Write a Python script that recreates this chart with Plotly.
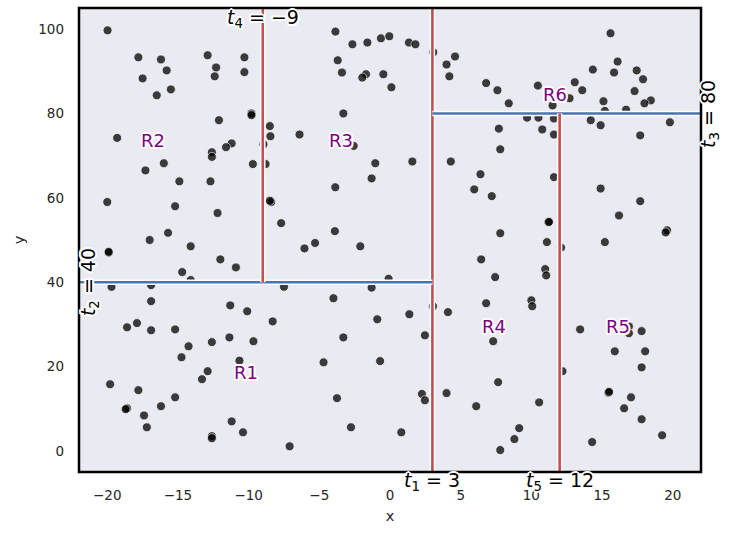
import plotly.graph_objects as go

# ---- data: sample points ----
x_vals = [
    -19.98, -17.8, -16.2, -15.8, -17.5, -15.5, -16.5, -12.9, -12.3, -12.4, -10.3, -10.3, -9.8, -9.8,
    -12.1, -19.3, -11.2, -11.6, -12.6, -12.6, -16.0, -17.3, -14.9, -12.7, -20.0, -15.2, -12.2, -15.7,
    -17.0, -14.1, -19.9, -19.9, -12.0, -10.9, -14.7, -14.1, -9.7,
    -8.5, -8.46, -8.95, -8.8, -8.4, -8.5, -7.7, -3.86, -2.66, -1.6, -0.64, -0.05, 1.34, 1.8, -3.7, -3.4,
    -1.7, -1.96, -0.47, 0.1, -3.3, -6.4, -2.57, -1.04, 1.58, -1.3, -3.87, -3.9, -5.3, -6.05, -2.1, -0.1,
    -19.7, -16.9, -16.9, -11.3, -10.1, -8.3, -18.6, -17.9, -16.9, -15.2, -14.25, -14.75, -12.6, -11.36,
    -9.66, -10.65, -12.9, -13.3, -19.8, -17.8, -15.2, -16.2, -18.6, -18.7, -17.4, -17.2, -11.2, -10.4,
    -12.6, -12.6, -7.5, -1.3, -4.0, -0.9, 1.37, 2.47, -3.3, -4.7, -0.7, -3.75, 2.26, 2.47, -2.76, 0.8, -7.1,
    3.06, 4.6, 4.0, 4.2, 4.3, 15.6, 16.1, 14.35, 15.85, 17.45, 17.9, 17.3, 18.45, 18.0, 13.07, 13.6, 6.8,
    7.6, 8.4, 10.46, 12.7, 11.5, 15.1, 15.2, 16.7, 9.7, 10.5, 11.6, 10.77, 11.6, 14.2, 14.9, 19.8, 17.7,
    7.7, 7.8, 6.4, 5.96, 7.2, 11.6, 14.9, 17.7, 16.2, 11.2, 11.25, 7.8, 11.1, 15.2, 19.6, 19.5, 12.1,
    6.45, 7.44, 10.98, 11.05, 3.04, 4.1, 6.8, 10.0, 10.06, 7.3, 13.45, 16.9, 16.9, 17.8, 15.9, 18.05,
    17.8, 12.2, 7.65, 4.0, 6.1, 10.55, 15.45, 15.5, 17.05, 16.56, 17.8, 9.14, 8.8, 7.8, 14.3, 19.25,
]
y_vals = [
    99.7, 93.3, 92.8, 90.2, 88.3, 85.7, 84.3, 93.8, 90.9, 88.8, 93.3, 89.8, 80.0, 79.6,
    78.4, 74.2, 72.9, 72.0, 70.8, 69.7, 68.2, 66.5, 63.9, 63.9, 59.0, 58.0, 56.4, 51.7,
    50.0, 48.5, 47.0, 47.2, 45.4, 43.5, 42.4, 40.5, 68.0,
    77.0, 74.6, 72.7, 68.0, 59.0, 59.3, 54.0, 99.4, 96.4, 96.8, 97.8, 98.3, 96.8, 96.4, 92.6, 89.7,
    89.3, 88.5, 89.3, 86.2, 80.0, 75.0, 72.3, 68.2, 68.6, 64.6, 62.5, 52.1, 49.3, 48.0, 48.5, 40.8,
    38.9, 39.3, 35.5, 34.5, 33.1, 30.7, 29.3, 30.3, 28.6, 28.8, 24.8, 22.2, 25.8, 26.9,
    26.0, 21.4, 18.9, 17.0, 15.8, 14.4, 12.7, 10.6, 10.1, 9.9, 8.4, 5.6, 7.0, 4.4,
    3.5, 3.0, 38.9, 38.7, 36.2, 31.2, 32.4, 27.4, 26.9, 21.0, 21.3, 12.5, 13.5, 12.0, 5.6, 4.4, 1.1,
    94.5, 93.5, 91.6, 88.8, 68.6, 99.0, 92.3, 90.4, 89.7, 90.2, 88.1, 85.3, 83.1, 82.4, 87.4, 85.5, 87.2,
    85.5, 82.4, 86.6, 83.6, 81.9, 82.9, 80.6, 80.9, 79.0, 79.0, 78.8, 76.2, 75.0, 78.4, 77.2, 77.9, 74.8,
    76.4, 71.5, 65.6, 62.0, 60.4, 64.9, 62.2, 59.2, 55.8, 54.2, 54.3, 51.6, 49.5, 49.5, 52.3, 51.8, 48.2,
    45.4, 41.2, 43.1, 41.6, 34.3, 32.9, 35.0, 35.7, 34.3, 26.0, 28.8, 29.5, 27.9, 28.4, 23.6, 23.6,
    19.8, 18.9, 16.3, 13.7, 10.6, 11.5, 13.8, 14.0, 12.7, 10.1, 7.5, 5.4, 2.8, 0.2, 2.1, 3.7,
]

# ---- data: splits of the tree ----
split_names = ["t_1", "t_2", "t_3", "t_4", "t_5"]
split_orient = ["v", "h", "h", "v", "v"]
split_value = [3, 40, 80, -9, 12]
split_lo = [-5, -22, 3, 40, -5]
split_hi = [105, 3, 22, 105, 80]

# ---- data: region labels ----
region_names = ["R1", "R2", "R3", "R4", "R5", "R6"]
region_x = [-10.2, -16.75, -3.5, 7.35, 16.1, 11.7]
region_y = [18.7, 73.5, 73.5, 29.6, 29.6, 84.4]

x_ticks = [-20, -15, -10, -5, 0, 5, 10, 15, 20]
y_ticks = [0, 20, 40, 60, 80, 100]
X_RANGE = [-22, 22]
Y_RANGE = [-5, 105]

RED = "#C44E52"
BLUE = "#4C72B0"
FONT = "DejaVu Sans"
HALO = ("2px 0px 0px white, -2px 0px 0px white, 0px 2px 0px white, 0px -2px 0px white, "
        "1.5px 1.5px 0px white, -1.5px -1.5px 0px white, 1.5px -1.5px 0px white, -1.5px 1.5px 0px white")

fig = go.Figure()

fig.add_trace(go.Scatter(
    x=x_vals, y=y_vals, mode="markers",
    marker=dict(color="black", opacity=0.75, size=9, line=dict(color="white", width=0.8)),
    hoverinfo="skip", showlegend=False,
))

for o, v, lo, hi in zip(split_orient, split_value, split_lo, split_hi):
    if o == "v":
        xs, ys, col = [v, v], [lo, hi], RED
    else:
        xs, ys, col = [lo, hi], [v, v], BLUE
    fig.add_trace(go.Scatter(x=xs, y=ys, mode="lines", line=dict(color="white", width=5.5),
                             hoverinfo="skip", showlegend=False))
    fig.add_trace(go.Scatter(x=xs, y=ys, mode="lines", line=dict(color=col, width=2.6),
                             hoverinfo="skip", showlegend=False))


def fmt(v):
    return ("−" + str(-v)) if v < 0 else str(v)


def to_px(v, rng):
    return (v - rng[0]) / (rng[1] - rng[0])


def add_text(x, y, xref, yref, text, size, color, angle=0):
    fig.add_annotation(x=x, y=y, xref=xref, yref=yref, showarrow=False, textangle=angle,
                       xanchor="center", yanchor="middle", text=text,
                       font=dict(family=FONT, size=size, color=color, shadow=HALO))


# split labels (paper coords where the label sits outside the axis range)
lab_pos = {
    "t_1": (3, "x", to_px(-7.3, Y_RANGE), "paper", 0),
    "t_2": (-21.3, "x", 40, "y", -90),
    "t_3": (to_px(22.6, X_RANGE), "paper", 80, "y", -90),
    "t_4": (-9, "x", to_px(102.6, Y_RANGE), "paper", 0),
    "t_5": (12, "x", to_px(-7.3, Y_RANGE), "paper", 0),
}
for name, v in zip(split_names, split_value):
    px, xr, py, yr, ang = lab_pos[name]
    add_text(px, py, xr, yr, "<i>t</i><sub>%s</sub> = %s" % (name[2:], fmt(v)), 19, "black", ang)

for n, rx, ry in zip(region_names, region_x, region_y):
    add_text(rx, ry, "x", "y", n, 18, "purple")

fig.add_shape(type="rect", xref="paper", yref="paper", x0=0, x1=1, y0=0, y1=1,
              line=dict(color="black", width=2.5), layer="above")

fig.update_layout(
    width=729, height=536,
    margin=dict(l=79, r=28, t=8, b=64),
    plot_bgcolor="#EAEAF2", paper_bgcolor="white",
    font=dict(family=FONT, color="#262626"),
    xaxis=dict(range=X_RANGE, tickvals=x_ticks, ticktext=[fmt(t) for t in x_ticks],
               showgrid=False, zeroline=False, showline=False, ticks="",
               tickfont=dict(size=13.5), ticklabelstandoff=13,
               title=dict(text="x", font=dict(size=14.5), standoff=9)),
    yaxis=dict(range=Y_RANGE, tickvals=y_ticks, showgrid=False, zeroline=False,
               showline=False, ticks="", tickfont=dict(size=13.5), ticklabelstandoff=14,
               title=dict(text="y", font=dict(size=14.5), standoff=10)),
)

fig.write_html("out.html")
